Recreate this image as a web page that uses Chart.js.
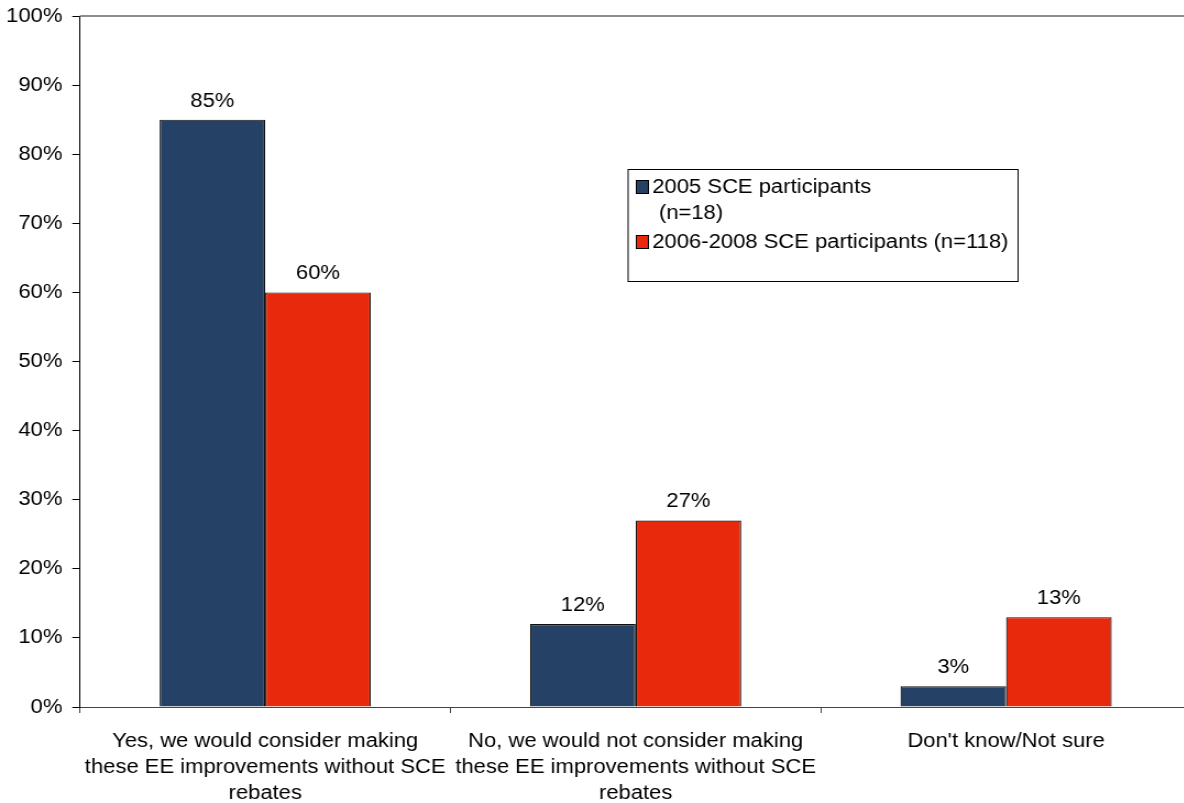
<!DOCTYPE html>
<html>
<head>
<meta charset="utf-8">
<script src="https://cdn.jsdelivr.net/npm/chart.js@4.4.0/dist/chart.umd.min.js"></script>
<style>
  html, body { margin: 0; padding: 0; background: #fff; overflow: hidden; }
  /* the chart is laid out narrow and stretched wide, like the exported slide */
  #wrap { width: 1084px; height: 803px; transform: scaleX(1.1); transform-origin: 0 0; }
  #chart { width: 1084px; height: 803px; }
</style>
</head>
<body>
<div id="wrap"><canvas id="chart" width="1084" height="803"></canvas></div>
<script>
// Survey answers: would the respondent make the EE improvements without rebates
var categories = [
  ['Yes, we would consider making', 'these EE improvements without SCE', 'rebates'],
  ['No, we would not consider making', 'these EE improvements without SCE', 'rebates'],
  ["Don't know/Not sure"]
];
var seriesNames = [['2005 SCE participants', '(n=18)'], ['2006-2008 SCE participants (n=118)']];
var values2005 = [85, 12, 3];
var values2006 = [60, 27, 13];
var yTicks = [0, 10, 20, 30, 40, 50, 60, 70, 80, 90, 100];

var FONT = 'Liberation Sans, Arial, sans-serif';
var colors = ['#264166', '#E8290B'];

// value labels above each bar
var barLabels = {
  id: 'barLabels',
  afterDatasetsDraw: function (chart) {
    var ctx = chart.ctx;
    ctx.save();
    ctx.font = '20px ' + FONT;
    ctx.fillStyle = '#000';
    ctx.textAlign = 'center';
    ctx.textBaseline = 'alphabetic';
    chart.data.datasets.forEach(function (ds, i) {
      chart.getDatasetMeta(i).data.forEach(function (bar, j) {
        ctx.fillText(ds.data[j] + '%', bar.x, bar.y - 13);
      });
    });
    ctx.restore();
  }
};

// gray frame line along the top of the plot, plus the boxed legend
var frameAndLegend = {
  id: 'frameAndLegend',
  afterDraw: function (chart) {
    var ctx = chart.ctx, a = chart.chartArea;
    ctx.save();
    ctx.strokeStyle = '#8c8c8c';
    ctx.lineWidth = 2;
    ctx.beginPath();
    ctx.moveTo(a.left, a.top);
    ctx.lineTo(a.right + 2, a.top);
    ctx.stroke();

    // legend box
    var bx = 571, by = 169.5, bw = 354.5, bh = 112;
    ctx.lineWidth = 1;
    ctx.strokeStyle = '#000';
    ctx.fillStyle = '#fff';
    ctx.fillRect(bx, by, bw, bh);
    ctx.strokeRect(bx, by, bw, bh);

    ctx.font = '20px ' + FONT;
    ctx.textBaseline = 'middle';
    ctx.textAlign = 'left';
    var rows = [{ y: 187, ds: 0 }, { y: 242, ds: 1 }];
    rows.forEach(function (r) {
      var ds = chart.data.datasets[r.ds];
      ctx.fillStyle = ds.backgroundColor;
      ctx.fillRect(578.5, r.y - 6.5, 11, 13);
      ctx.strokeStyle = '#000';
      ctx.strokeRect(578.5, r.y - 6.5, 11, 13);
      ctx.fillStyle = '#000';
      var lines = seriesNames[r.ds];
      ctx.fillText(lines[0], 593, r.y);
      if (lines[1]) ctx.fillText(lines[1], 599, r.y + 26);
    });
    ctx.restore();
  }
};

new Chart(document.getElementById('chart'), {
  type: 'bar',
  data: {
    labels: categories,
    datasets: [
      { label: seriesNames[0].join(' '), data: values2005, backgroundColor: colors[0], borderColor: '#111', borderWidth: 1.2 },
      { label: seriesNames[1].join(' '), data: values2006, backgroundColor: colors[1], borderColor: '#111', borderWidth: 1.2 }
    ]
  },
  options: {
    responsive: false,
    animation: false,
    layout: { padding: { top: 16, right: 1, left: 0, bottom: 0 } },
    datasets: { bar: { categoryPercentage: 0.57, barPercentage: 1 } },
    plugins: { legend: { display: false }, tooltip: { enabled: false } },
    scales: {
      x: {
        offset: true,
        grid: { offset: true, drawOnChartArea: false, tickLength: 6, color: '#444', lineWidth: 1 },
        border: { color: '#444', width: 1 },
        ticks: { color: '#000', font: { family: FONT, size: 20, lineHeight: 1.3 }, padding: 15, maxRotation: 0, autoSkip: false },
        afterFit: function (s) { s.height = 96; }
      },
      y: {
        min: 0,
        max: 100,
        afterBuildTicks: function (s) { s.ticks = yTicks.map(function (v) { return { value: v }; }); },
        grid: { drawOnChartArea: false, tickLength: 7, color: '#000' },
        border: { color: '#000', width: 1 },
        ticks: { color: '#000', font: { family: FONT, size: 20 }, padding: 9, callback: function (v) { return v + '%'; } },
        afterFit: function (s) { s.width = 72.7; s.paddingTop = 0; s.paddingBottom = 0; }
      }
    }
  },
  plugins: [barLabels, frameAndLegend]
});
</script>
</body>
</html>
